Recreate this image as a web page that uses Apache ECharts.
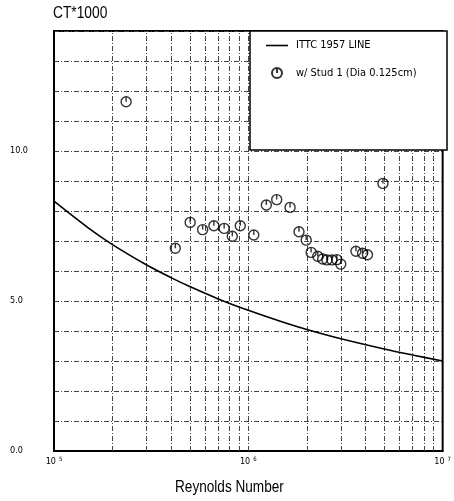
<!DOCTYPE html>
<html><head><meta charset="utf-8">
<script src="https://cdn.jsdelivr.net/npm/echarts@6/dist/echarts.min.js"></script>
<style>html,body{margin:0;padding:0;background:#fff}#c{width:454px;height:501px}</style>
</head><body><div id="c"></div>
<script>
const FONT = '"Liberation Sans Narrow","Arial Narrow","DejaVu Sans Condensed","Liberation Sans",sans-serif';
const WIDE = '"Liberation Sans",Arial,sans-serif';

// ITTC 1957 friction line
const ittcRe = [1e5, 1.5e5, 2e5, 3e5, 4e5, 5e5, 7e5, 1e6, 1.5e6, 2e6, 3e6, 5e6, 7e6, 1e7];
const ittcCt = [8.33, 7.44, 6.88, 6.20, 5.78, 5.48, 5.07, 4.69, 4.30, 4.05, 3.74, 3.40, 3.20, 3.00];

// w/ Stud 1 measurements
const studRe = [2.35e5, 4.21e5, 5.02e5, 5.82e5, 6.65e5, 7.51e5, 8.27e5, 9.09e5, 1.067e6, 1.238e6, 1.40e6, 1.64e6,
  1.823e6, 1.985e6, 2.105e6, 2.277e6, 2.414e6, 2.539e6, 2.692e6, 2.854e6, 2.991e6, 3.579e6, 3.871e6, 4.104e6, 4.93e6];
const studCt = [11.64, 6.76, 7.62, 7.38, 7.51, 7.42, 7.16, 7.51, 7.20, 8.20, 8.38, 8.12,
  7.31, 7.03, 6.62, 6.49, 6.40, 6.37, 6.37, 6.38, 6.23, 6.66, 6.59, 6.54, 8.92];

// Minor vertical gridlines (log decades)
const vGrid = [2e5, 3e5, 4e5, 5e5, 6e5, 7e5, 8e5, 9e5, 2e6, 3e6, 4e6, 5e6, 6e6, 7e6, 8e6, 9e6, 1e6];
const xTickExp = {100000: '5', 1000000: '6', 10000000: '7'};
const yLabels = [0, 5, 10];

const seriesNames = ['ITTC 1957 LINE', 'w/ Stud 1 (Dia 0.125cm)'];
const yTitle = 'CT*1000';
const xTitle = 'Reynolds Number';
const gridStyle = {color: '#444', width: 1, type: [5, 2, 1, 2]};
const studSymbol = 'path://M10,0 A10,10 0 1,1 9.99,0 Z M10,0 L10,10';

const chart = echarts.init(document.getElementById('c'), null, {renderer: 'canvas'});
chart.setOption({
  animation: false,
  backgroundColor: '#fff',
  textStyle: {fontFamily: FONT},
  grid: {left: 54, right: 7, top: 31, bottom: 50, show: true, borderColor: '#000', borderWidth: 2, backgroundColor: 'transparent'},
  xAxis: {
    type: 'log', logBase: 10, min: 1e5, max: 1e7,
    axisLine: {show: true, lineStyle: {color: '#000', width: 2}},
    axisTick: {show: false},
    splitLine: {show: false},
    axisLabel: {
      margin: 5, color: '#000', fontFamily: FONT, fontSize: 9,
      formatter: v => '10{s|' + (xTickExp[Math.round(v)] || '') + '}',
      rich: {s: {fontSize: 6, verticalAlign: 'top', padding: [0, 0, 6, 3], fontFamily: FONT}}
    }
  },
  yAxis: {
    type: 'value', min: 0, max: 14, interval: 1,
    axisLine: {show: true, lineStyle: {color: '#000', width: 2}},
    axisTick: {show: false},
    splitLine: {show: true, lineStyle: gridStyle},
    axisLabel: {
      align: 'left', margin: 44, color: '#000', fontFamily: FONT, fontSize: 9,
      formatter: v => yLabels.indexOf(v) >= 0 ? v.toFixed(1) : ''
    }
  },
  legend: {
    orient: 'vertical', left: 261, top: 35, z: 120,
    itemWidth: 22, itemHeight: 10, itemGap: 16,
    data: [
      {name: seriesNames[0], icon: 'path://M0,5 L22,5 L22,6.6 L0,6.6 Z'},
      {name: seriesNames[1]}
    ],
    textStyle: {fontFamily: FONT, fontSize: 11, color: '#000', padding: [0, 0, 0, 3]}
  },
  graphic: [
    {
      type: 'rect', z: 100, silent: true,
      shape: {x: 250, y: 31, width: 197, height: 119},
      style: {fill: '#fff', stroke: '#000', lineWidth: 1.5}
    },
    {
      type: 'text', x: 53, y: 6, scaleX: 0.86, silent: true,
      style: {text: yTitle, font: '16px ' + WIDE, fill: '#000'}
    },
    {
      type: 'text', x: 175, y: 480, scaleX: 0.85, silent: true,
      style: {text: xTitle, font: '16px ' + WIDE, fill: '#000'}
    }
  ],
  series: [
    {
      name: 'grid-v', type: 'line', data: [], silent: true,
      markLine: {
        silent: true, symbol: 'none', label: {show: false},
        lineStyle: gridStyle, animation: false,
        data: vGrid.map(x => ({xAxis: x}))
      }
    },
    {
      name: seriesNames[0], type: 'line', smooth: 0.3, symbol: 'none',
      lineStyle: {color: '#000', width: 1.6}, itemStyle: {color: '#000'},
      data: ittcRe.map((x, i) => [x, ittcCt[i]]), z: 5
    },
    {
      name: seriesNames[1], type: 'scatter', symbol: studSymbol, symbolSize: 10, symbolKeepAspect: true,
      itemStyle: {color: 'rgba(255,255,255,0)', borderColor: '#000', borderWidth: 1.4},
      data: studRe.map((x, i) => [x, studCt[i]]), z: 6
    }
  ]
});
</script></body></html>
